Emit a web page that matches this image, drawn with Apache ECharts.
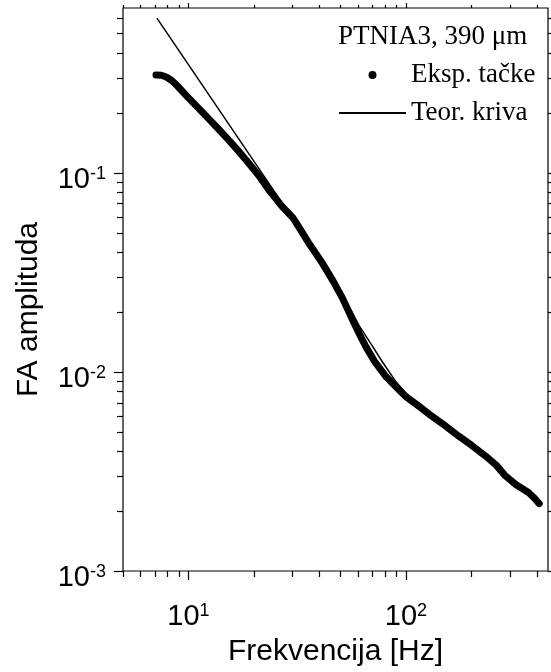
<!DOCTYPE html>
<html>
<head>
<meta charset="utf-8">
<script src="https://cdn.jsdelivr.net/npm/echarts@6/dist/echarts.min.js"></script>
<style>
html, body { margin: 0; padding: 0; background: #fff; }
#chart { width: 551px; height: 672px; }
</style>
</head>
<body>
<div id="chart"></div>
<script>
// experimental points [Hz, amplitude]
var expData = [
    [7.09, 0.309], [7.5, 0.308], [7.9, 0.302], [8.4, 0.289], [8.9, 0.272],
    [9.9, 0.240], [11.0, 0.213], [12.4, 0.186], [13.7, 0.166], [15.1, 0.148],
    [16.8, 0.130], [18.6, 0.114], [21.0, 0.097], [23.8, 0.080], [26.8, 0.068],
    [30.3, 0.059], [33.0, 0.051], [36.1, 0.0435], [41.0, 0.0355], [46.2, 0.0286],
    [51.0, 0.0235], [57.0, 0.0181], [61.0, 0.0155], [65.6, 0.0133], [72.0, 0.0112],
    [81.1, 0.00944], [90.0, 0.0084], [100, 0.0075], [115, 0.0067], [132, 0.00597],
    [152, 0.00535], [175, 0.00475], [200, 0.00428], [232, 0.00378], [260, 0.00340],
    [286, 0.00301], [320, 0.00272], [366, 0.00248], [390, 0.00232], [410, 0.00218]
];
// theoretical curve
var teorData = [
    [7.16, 0.596], [25.5, 0.077], [30, 0.0593], [40, 0.0376], [50, 0.0255],
    [57, 0.0196], [61, 0.0170], [70, 0.0135], [78, 0.0112], [90, 0.0089],
    [100, 0.0078], [132, 0.00605], [175, 0.00478], [232, 0.00378], [290, 0.00299],
    [366, 0.00249], [410, 0.00218]
];

var xMajorTicks = [10, 100];
var xMinorTicks = [5, 6, 7, 8, 9, 20, 30, 40, 50, 60, 70, 80, 90, 200, 300, 400];
var yMajorTicks = [0.001, 0.01, 0.1];
var yMinorTicks = [0.002, 0.003, 0.004, 0.005, 0.006, 0.007, 0.008, 0.009,
    0.02, 0.03, 0.04, 0.05, 0.06, 0.07, 0.08, 0.09,
    0.2, 0.3, 0.4, 0.5, 0.6];

var xRange = [5, 450];
var yRange = [0.001, 0.67];

var tickData = [];
xMinorTicks.forEach(function (v) { tickData.push([v, 0.01, 0]); });
xMajorTicks.forEach(function (v) { tickData.push([v, 0.01, 1]); });
yMinorTicks.forEach(function (v) { tickData.push([10, v, 2]); });
yMajorTicks.forEach(function (v) { tickData.push([10, v, 3]); });

function powLabel(value) {
    var e = Math.log(value) / Math.LN10;
    var r = Math.round(e);
    if (Math.abs(e - r) > 1e-6) {
        return '';
    }
    return '{b|10}{s|' + r + '}';
}

var labelRich = {
    b: { fontSize: 29, fontFamily: 'Liberation Sans', color: '#000', lineHeight: 29, padding: [8, 0, 0, 0], verticalAlign: 'bottom' },
    s: { fontSize: 18, fontFamily: 'Liberation Sans', color: '#000', lineHeight: 18, verticalAlign: 'top' }
};

var myChart = echarts.init(document.getElementById('chart'));

var option = {
    animation: false,
    backgroundColor: '#fff',
    title: {
        text: 'PTNIA3, 390 μm',
        left: 338,
        top: 23,
        padding: 0,
        textStyle: { fontFamily: 'Liberation Serif', fontSize: 27, fontWeight: 'normal', color: '#000', lineHeight: 28 }
    },
    legend: {
        orient: 'vertical',
        left: 338,
        top: 61,
        padding: 0,
        itemWidth: 67,
        itemHeight: 8,
        itemGap: 10,
        selectedMode: false,
        textStyle: { fontFamily: 'Liberation Serif', fontSize: 27, color: '#000', lineHeight: 28 },
        data: [
            { name: 'Eksp. tačke', icon: 'circle' },
            { name: 'Teor. kriva', itemStyle: { opacity: 0 } }
        ]
    },
    grid: {
        left: 123,
        right: 2,
        top: 8,
        bottom: 96,
        show: true,
        borderColor: '#000',
        borderWidth: 1.2,
        containLabel: false
    },
    xAxis: {
        type: 'log',
        logBase: 10,
        min: xRange[0],
        max: xRange[1],
        name: 'Frekvencija [Hz]',
        nameLocation: 'middle',
        nameGap: 66,
        nameTextStyle: { fontFamily: 'Liberation Sans', fontSize: 30, color: '#000' },
        axisLine: { show: false },
        axisTick: { show: false },
        splitLine: { show: false },
        axisLabel: {
            interval: 0,
            margin: 31,
            formatter: powLabel,
            rich: labelRich
        }
    },
    yAxis: {
        type: 'log',
        logBase: 10,
        min: yRange[0],
        max: yRange[1],
        name: 'FA amplituda',
        nameLocation: 'middle',
        nameGap: 79,
        nameTextStyle: { fontFamily: 'Liberation Sans', fontSize: 30, color: '#000', padding: [0, 40, 0, 0] },
        axisLine: { show: false },
        axisTick: { show: false },
        splitLine: { show: false },
        axisLabel: {
            interval: 0,
            margin: 17,
            padding: [14, 0, 0, 0],
            formatter: powLabel,
            rich: labelRich
        }
    },
    series: [
        {
            name: 'Eksp. tačke',
            type: 'line',
            data: expData,
            symbol: 'none',
            color: '#000',
            lineStyle: { color: '#000', width: 7, cap: 'round', join: 'round' },
            z: 2
        },
        {
            name: 'Teor. kriva',
            type: 'line',
            data: teorData,
            symbol: 'none',
            color: '#000',
            lineStyle: { color: '#000', width: 1.5 },
            z: 3
        },
        {
            name: 'ticks',
            type: 'custom',
            silent: true,
            data: tickData,
            encode: { x: 0, y: 1 },
            renderItem: function (params, api) {
                var rect = params.coordSys;
                var kind = api.value(2);
                var st = { stroke: '#000', lineWidth: 1.2 };
                if (kind < 2) {
                    var px = Math.round(api.coord([api.value(0), 0.01])[0]) + 0.5;
                    var lo = kind === 1 ? 9 : 6;
                    var lt = kind === 1 ? 5 : 3;
                    var yb = rect.y + rect.height;
                    return {
                        type: 'group',
                        children: [
                            { type: 'line', shape: { x1: px, y1: yb, x2: px, y2: yb + lo }, style: st },
                            { type: 'line', shape: { x1: px, y1: rect.y, x2: px, y2: rect.y - lt }, style: st }
                        ]
                    };
                }
                var py = Math.round(api.coord([10, api.value(1)])[1]) + 0.5;
                var lo2 = kind === 3 ? 9 : 6;
                var lr = kind === 3 ? 5 : 4;
                var xr = rect.x + rect.width;
                return {
                    type: 'group',
                    children: [
                        { type: 'line', shape: { x1: rect.x - lo2, y1: py, x2: rect.x, y2: py }, style: st },
                        { type: 'line', shape: { x1: xr, y1: py, x2: xr + lr, y2: py }, style: st }
                    ]
                };
            },
            z: 4
        }
    ]
};

myChart.setOption(option);
</script>
</body>
</html>
